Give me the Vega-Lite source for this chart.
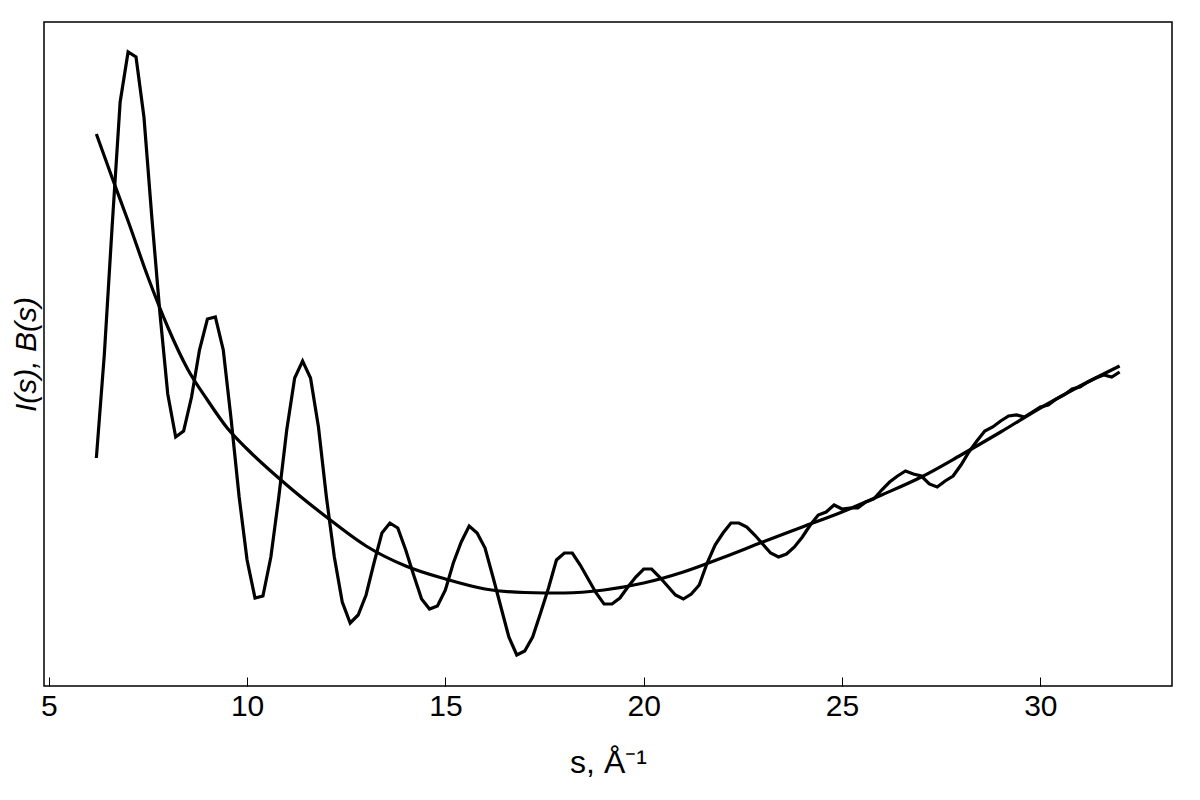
{
  "$schema": "https://vega.github.io/schema/vega-lite/v6.json",
  "width": 1128,
  "height": 664,
  "autosize": {"type": "none"},
  "padding": {"left": 44, "top": 22, "right": 28, "bottom": 114},
  "background": "white",
  "config": {
    "view": {"stroke": "black", "strokeWidth": 1.5},
    "font": "Liberation Sans"
  },
  "datasets": {
    "I": [
      {"s": 6.2, "v": 228}, {"s": 6.4, "v": 331}, {"s": 6.6, "v": 461}, {"s": 6.8, "v": 584},
      {"s": 7.0, "v": 634}, {"s": 7.2, "v": 629}, {"s": 7.4, "v": 569}, {"s": 7.6, "v": 468},
      {"s": 7.8, "v": 374}, {"s": 8.0, "v": 292}, {"s": 8.2, "v": 249}, {"s": 8.4, "v": 255},
      {"s": 8.6, "v": 289}, {"s": 8.8, "v": 336}, {"s": 9.0, "v": 367}, {"s": 9.2, "v": 369},
      {"s": 9.4, "v": 336}, {"s": 9.6, "v": 266}, {"s": 9.8, "v": 189}, {"s": 10.0, "v": 126},
      {"s": 10.2, "v": 88}, {"s": 10.4, "v": 90}, {"s": 10.6, "v": 129}, {"s": 10.8, "v": 189},
      {"s": 11.0, "v": 256}, {"s": 11.2, "v": 308}, {"s": 11.4, "v": 325}, {"s": 11.6, "v": 308},
      {"s": 11.8, "v": 259}, {"s": 12.0, "v": 189}, {"s": 12.2, "v": 129}, {"s": 12.4, "v": 84},
      {"s": 12.6, "v": 63}, {"s": 12.8, "v": 71}, {"s": 13.0, "v": 91}, {"s": 13.2, "v": 123},
      {"s": 13.4, "v": 153}, {"s": 13.6, "v": 163}, {"s": 13.8, "v": 158}, {"s": 14.0, "v": 136},
      {"s": 14.2, "v": 111}, {"s": 14.4, "v": 87}, {"s": 14.6, "v": 77}, {"s": 14.8, "v": 80},
      {"s": 15.0, "v": 96}, {"s": 15.2, "v": 123}, {"s": 15.4, "v": 144}, {"s": 15.6, "v": 160},
      {"s": 15.8, "v": 153}, {"s": 16.0, "v": 138}, {"s": 16.2, "v": 109}, {"s": 16.4, "v": 79},
      {"s": 16.6, "v": 49}, {"s": 16.8, "v": 31}, {"s": 17.0, "v": 35}, {"s": 17.2, "v": 49},
      {"s": 17.4, "v": 73}, {"s": 17.6, "v": 98}, {"s": 17.8, "v": 126}, {"s": 18.0, "v": 133},
      {"s": 18.2, "v": 133}, {"s": 18.4, "v": 121}, {"s": 18.6, "v": 107}, {"s": 18.8, "v": 93},
      {"s": 19.0, "v": 82}, {"s": 19.2, "v": 82}, {"s": 19.4, "v": 88}, {"s": 19.6, "v": 99},
      {"s": 19.8, "v": 109}, {"s": 20.0, "v": 117}, {"s": 20.2, "v": 117}, {"s": 20.4, "v": 109},
      {"s": 20.6, "v": 100}, {"s": 20.8, "v": 91}, {"s": 21.0, "v": 87}, {"s": 21.2, "v": 92},
      {"s": 21.4, "v": 101}, {"s": 21.6, "v": 123}, {"s": 21.8, "v": 141}, {"s": 22.0, "v": 153},
      {"s": 22.2, "v": 163}, {"s": 22.4, "v": 163}, {"s": 22.6, "v": 159}, {"s": 22.8, "v": 151},
      {"s": 23.0, "v": 142}, {"s": 23.2, "v": 133}, {"s": 23.4, "v": 129}, {"s": 23.6, "v": 132},
      {"s": 23.8, "v": 139}, {"s": 24.0, "v": 149}, {"s": 24.2, "v": 161}, {"s": 24.4, "v": 171},
      {"s": 24.6, "v": 174}, {"s": 24.8, "v": 181}, {"s": 25.0, "v": 177}, {"s": 25.2, "v": 178},
      {"s": 25.4, "v": 178}, {"s": 25.6, "v": 184}, {"s": 25.8, "v": 187}, {"s": 26.0, "v": 196},
      {"s": 26.2, "v": 204}, {"s": 26.4, "v": 210}, {"s": 26.6, "v": 215}, {"s": 26.8, "v": 212},
      {"s": 27.0, "v": 210}, {"s": 27.2, "v": 202}, {"s": 27.4, "v": 199}, {"s": 27.6, "v": 205},
      {"s": 27.8, "v": 210}, {"s": 28.0, "v": 221}, {"s": 28.2, "v": 234}, {"s": 28.4, "v": 245},
      {"s": 28.6, "v": 255}, {"s": 28.8, "v": 259}, {"s": 29.0, "v": 265}, {"s": 29.2, "v": 270},
      {"s": 29.4, "v": 271}, {"s": 29.6, "v": 269}, {"s": 29.8, "v": 274}, {"s": 30.0, "v": 279},
      {"s": 30.2, "v": 281}, {"s": 30.4, "v": 287}, {"s": 30.6, "v": 291}, {"s": 30.8, "v": 297},
      {"s": 31.0, "v": 299}, {"s": 31.2, "v": 304}, {"s": 31.4, "v": 308}, {"s": 31.6, "v": 311},
      {"s": 31.8, "v": 309}, {"s": 32.0, "v": 314}
    ],
    "B": [
      {"s": 6.2, "v": 552}, {"s": 6.6, "v": 508}, {"s": 7.0, "v": 465}, {"s": 7.5, "v": 409},
      {"s": 8.0, "v": 359}, {"s": 8.5, "v": 317}, {"s": 9.0, "v": 286}, {"s": 9.5, "v": 258},
      {"s": 10.0, "v": 237}, {"s": 11.0, "v": 201}, {"s": 12.0, "v": 169}, {"s": 13.0, "v": 140},
      {"s": 14.0, "v": 120}, {"s": 15.0, "v": 107}, {"s": 16.0, "v": 97}, {"s": 17.0, "v": 93.5},
      {"s": 18.0, "v": 93}, {"s": 19.0, "v": 96}, {"s": 20.0, "v": 103}, {"s": 21.0, "v": 114},
      {"s": 22.0, "v": 128.5}, {"s": 23.0, "v": 144}, {"s": 24.0, "v": 159}, {"s": 25.0, "v": 174},
      {"s": 26.0, "v": 191}, {"s": 27.0, "v": 209}, {"s": 28.0, "v": 231}, {"s": 29.0, "v": 254},
      {"s": 30.0, "v": 278}, {"s": 31.0, "v": 300}, {"s": 32.0, "v": 320}
    ]
  },
  "encoding": {
    "x": {
      "field": "s",
      "type": "quantitative",
      "scale": {"domain": [4.88, 33.32], "nice": false, "zero": false},
      "axis": {
        "title": "s, Å⁻¹",
        "values": [5, 10, 15, 20, 25, 30],
        "tickSize": -9,
        "tickColor": "black",
        "tickWidth": 1,
        "domain": false,
        "grid": false,
        "labelFontSize": 30,
        "labelColor": "black",
        "labelPadding": 14,
        "titleFontSize": 32,
        "titleFontWeight": "normal",
        "titleColor": "black",
        "titlePadding": 26
      }
    },
    "y": {
      "field": "v",
      "type": "quantitative",
      "scale": {"domain": [0, 664], "nice": false, "zero": false},
      "axis": {
        "title": "I(s), B(s)",
        "labels": false,
        "ticks": false,
        "domain": false,
        "grid": false,
        "titleFontSize": 30,
        "titleFontWeight": "normal",
        "titleFontStyle": "italic",
        "titleColor": "black",
        "titlePadding": 3
      }
    }
  },
  "layer": [
    {
      "data": {"name": "I"},
      "mark": {"type": "line", "color": "black", "strokeWidth": 3.2}
    },
    {
      "data": {"name": "B"},
      "mark": {"type": "line", "color": "black", "strokeWidth": 3.2, "interpolate": "monotone"}
    }
  ]
}
